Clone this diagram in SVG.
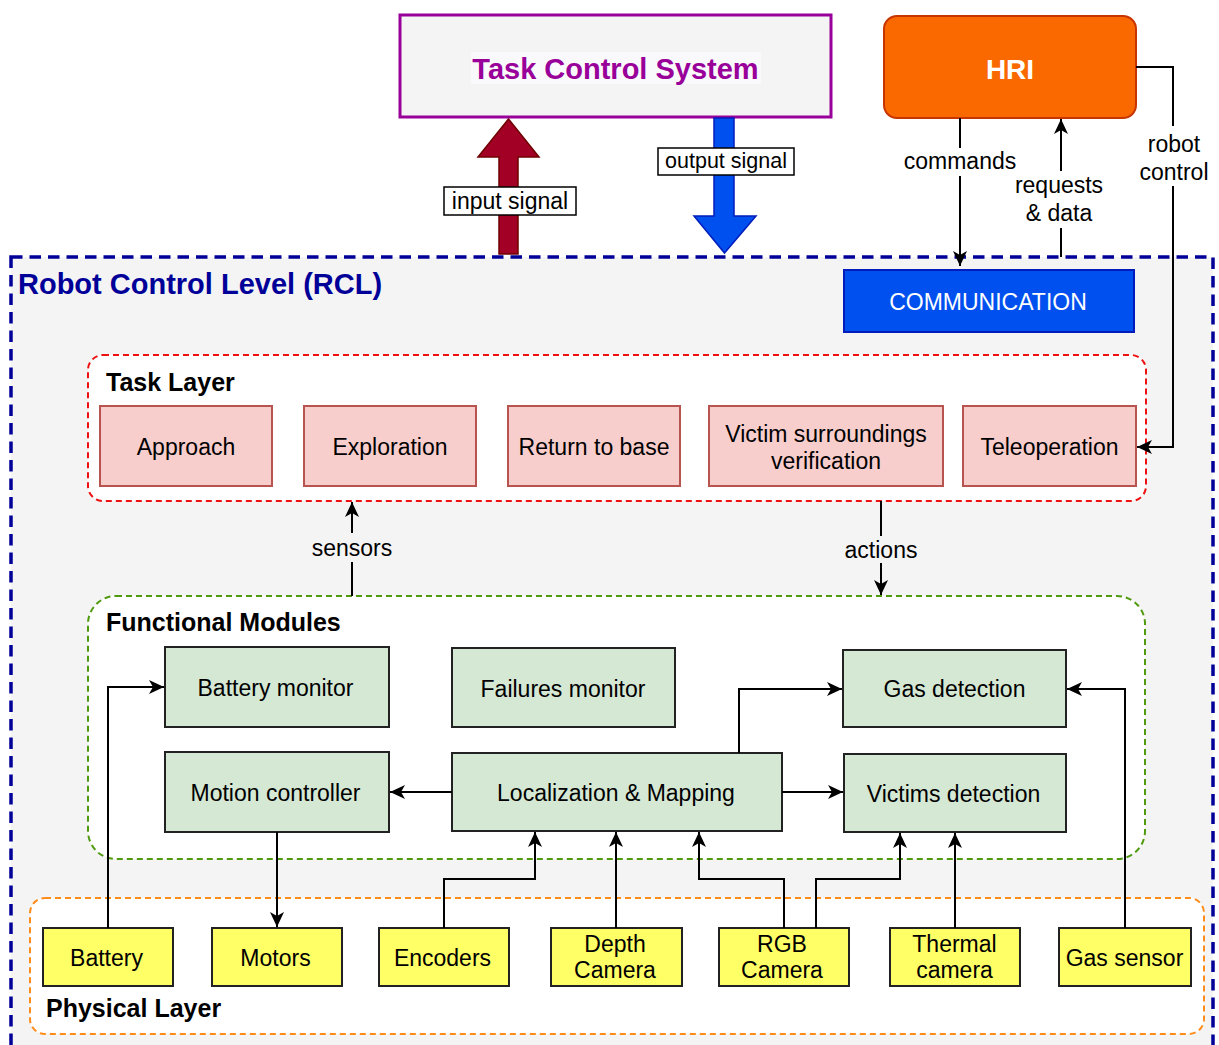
<svg xmlns="http://www.w3.org/2000/svg" width="1219" height="1045" viewBox="0 0 1219 1045">
<defs>
<style>
text{font-family:"Liberation Sans",Arial,Helvetica,sans-serif;fill:#000;}
.t{font-size:23px;text-anchor:middle;}
.ttl{font-size:25px;font-weight:bold;}
.task{fill:#f8cecc;stroke:#b85450;stroke-width:2;}
.fm{fill:#d5e8d4;stroke:#222;stroke-width:2;}
.phy{fill:#ffff66;stroke:#222;stroke-width:2;}
.conn path{fill:none;stroke:#000;stroke-width:2;marker-end:url(#arr);}
.lblbox{fill:#fff;stroke:#000;stroke-width:1.5;}
</style>
<marker id="arr" viewBox="0 0 16 16" markerWidth="16" markerHeight="16" refX="15" refY="8" orient="auto" markerUnits="userSpaceOnUse">
<path d="M15,8 L0,1 L4,8 L0,15 Z" fill="#000"/>
</marker>
</defs>
<rect x="0" y="0" width="1219" height="1045" fill="#fff"/>

<g id="rcl">
<rect x="11" y="257" width="1202" height="820" fill="#f4f4f4" stroke="#000099" stroke-width="3.5" stroke-dasharray="11.5 7"/>
<text x="18" y="294" style="font-size:29px;font-weight:bold;fill:#000099">Robot Control Level (RCL)</text>
</g>

<g id="task-control-system">
<rect x="400" y="15" width="431" height="102" fill="#f4f4f4" stroke="#990099" stroke-width="3"/>
<rect x="471" y="52" width="290" height="32" fill="#f9f9fb"/>
<text x="615.5" y="79" style="font-size:29px;font-weight:bold;fill:#990099;text-anchor:middle">Task Control System</text>
</g>

<g id="input-signal">
<polygon points="499,254 518,254 518,157 539,157 508.5,119 478,157 499,157" fill="#a20025" stroke="#6f0000" stroke-width="1.5"/>
<rect class="lblbox" x="444" y="187" width="132" height="28"/>
<text class="t" x="510" y="209">input signal</text>
</g>

<g id="output-signal">
<polygon points="714,118 734,118 734,216 756,216 724.5,253 694,216 714,216" fill="#0050ef" stroke="#001dbc" stroke-width="1.5"/>
<rect class="lblbox" x="658" y="148" width="136" height="27"/>
<text x="726" y="168" style="font-size:21.5px;text-anchor:middle">output signal</text>
</g>

<g id="hri">
<rect x="884" y="16" width="252" height="102" rx="13" fill="#fa6800" stroke="#c73500" stroke-width="2"/>
<text x="1010" y="79" style="font-size:28px;font-weight:bold;fill:#fff;text-anchor:middle">HRI</text>
</g>

<g id="communication">
<rect x="844" y="270" width="290" height="62" fill="#0050ef" stroke="#001dbc" stroke-width="2"/>
<text class="t" x="988" y="310" style="fill:#fff">COMMUNICATION</text>
</g>

<g id="task-layer">
<rect x="88" y="355" width="1058" height="146" rx="15" fill="#fff" stroke="#ee1111" stroke-width="2" stroke-dasharray="6 4"/>
<text class="ttl" x="106" y="391">Task Layer</text>
</g>
<g id="approach"><rect class="task" x="100" y="406" width="172" height="80"/><text class="t" x="186" y="455">Approach</text></g>
<g id="exploration"><rect class="task" x="304" y="406" width="172" height="80"/><text class="t" x="390" y="455">Exploration</text></g>
<g id="return-to-base"><rect class="task" x="508" y="406" width="172" height="80"/><text class="t" x="594" y="455">Return to base</text></g>
<g id="victim-surroundings"><rect class="task" x="709" y="406" width="234" height="80"/><text class="t" x="826" y="442">Victim surroundings</text><text class="t" x="826" y="469">verification</text></g>
<g id="teleoperation"><rect class="task" x="963" y="406" width="173" height="80"/><text class="t" x="1049.5" y="455">Teleoperation</text></g>

<g id="functional-modules">
<rect x="88" y="596" width="1057" height="263" rx="28" fill="#fff" stroke="#4f9a0f" stroke-width="2" stroke-dasharray="6 4"/>
<text class="ttl" x="106" y="631">Functional Modules</text>
</g>
<g id="battery-monitor"><rect class="fm" x="165" y="647" width="224" height="80"/><text class="t" x="275.5" y="696">Battery monitor</text></g>
<g id="failures-monitor"><rect class="fm" x="452" y="648" width="223" height="79"/><text class="t" x="563" y="697">Failures monitor</text></g>
<g id="gas-detection"><rect class="fm" x="843" y="650" width="223" height="77"/><text class="t" x="954.5" y="697">Gas detection</text></g>
<g id="motion-controller"><rect class="fm" x="165" y="752" width="224" height="80"/><text class="t" x="275.5" y="801">Motion controller</text></g>
<g id="localization-mapping"><rect class="fm" x="452" y="753" width="330" height="78"/><text class="t" x="616" y="801">Localization &amp; Mapping</text></g>
<g id="victims-detection"><rect class="fm" x="844" y="754" width="222" height="78"/><text class="t" x="953.5" y="802">Victims detection</text></g>

<g id="physical-layer">
<rect x="30" y="898" width="1174" height="136" rx="15" fill="#fff" stroke="#ff8c1a" stroke-width="2" stroke-dasharray="6 4"/>
<text class="ttl" x="46" y="1017">Physical Layer</text>
</g>
<g id="battery"><rect class="phy" x="43" y="928" width="130" height="58"/><text class="t" x="106.5" y="966">Battery</text></g>
<g id="motors"><rect class="phy" x="212" y="928" width="130" height="58"/><text class="t" x="275.5" y="966">Motors</text></g>
<g id="encoders"><rect class="phy" x="379" y="928" width="130" height="58"/><text class="t" x="442.5" y="966">Encoders</text></g>
<g id="depth-camera"><rect class="phy" x="551" y="928" width="131" height="58"/><text class="t" x="615" y="952">Depth</text><text class="t" x="615" y="978">Camera</text></g>
<g id="rgb-camera"><rect class="phy" x="719" y="928" width="130" height="58"/><text class="t" x="782" y="952">RGB</text><text class="t" x="782" y="978">Camera</text></g>
<g id="thermal-camera"><rect class="phy" x="890" y="928" width="130" height="58"/><text class="t" x="954.5" y="952">Thermal</text><text class="t" x="954.5" y="978">camera</text></g>
<g id="gas-sensor"><rect class="phy" x="1059" y="928" width="132" height="58"/><text class="t" x="1124.5" y="966">Gas sensor</text></g>

<g id="connectors" class="conn">
<path d="M960,118 V266"/>
<path d="M1061,257 V119"/>
<path d="M1136,67 H1173 V447 H1137"/>
<path d="M352,596 V502"/>
<path d="M881,501 V595"/>
<path d="M108,928 V687 H164"/>
<path d="M452,792 H390"/>
<path d="M277,832 V927"/>
<path d="M739,753 V689 H842"/>
<path d="M782,792 H843"/>
<path d="M1125,928 V689 H1067"/>
<path d="M444,928 V879 H535 V832"/>
<path d="M616,928 V832"/>
<path d="M784,928 V879 H699 V832"/>
<path d="M816,928 V879 H900 V833"/>
<path d="M955,928 V833"/>
</g>

<g id="connector-labels">
<rect x="902" y="148" width="116" height="28" fill="#fff"/>
<text class="t" x="960" y="169">commands</text>
<rect x="1012" y="171" width="96" height="57" fill="#fff"/>
<text class="t" x="1059" y="193">requests</text>
<text class="t" x="1059" y="221">&amp; data</text>
<rect x="1137" y="126" width="74" height="60" fill="#fff"/>
<text class="t" x="1174" y="152">robot</text>
<text class="t" x="1174" y="180">control</text>
<rect x="310" y="533" width="84" height="29" fill="#f4f4f4"/>
<text class="t" x="352" y="556">sensors</text>
<rect x="840" y="536" width="82" height="27" fill="#f4f4f4"/>
<text class="t" x="881" y="558">actions</text>
</g>
</svg>
